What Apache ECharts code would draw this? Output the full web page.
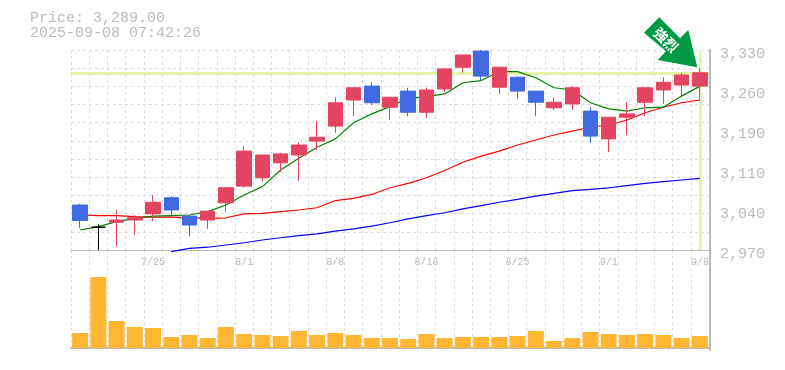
<!DOCTYPE html>
<html><head><meta charset="utf-8">
<style>html,body{margin:0;padding:0;background:#fff}#c{width:785px;height:370px}</style>
<script src="https://cdn.jsdelivr.net/npm/echarts@6/dist/echarts.min.js"></script>
</head><body><div id="c"></div>
<script>
const dates=['7/18','7/22','7/23','7/24','7/25','7/28','7/29','7/30','7/31','8/1','8/4','8/5','8/6','8/7','8/8','8/12','8/13','8/14','8/15','8/18','8/19','8/20','8/21','8/22','8/25','8/26','8/27','8/28','8/29','9/1','9/2','9/3','9/4','9/5','9/8'];
const dateTicks=['7/25','8/1','8/8','8/18','8/25','9/1','9/8'];
const priceTicks=[2970,3042,3114,3186,3258,3330];
const opens =[3051,3011,3020,3024,3035,3064,3031,3024,3055,3085,3100,3127,3141,3166,3193,3240,3265,3227,3256,3218,3260,3299,3328,3263,3281,3256,3226,3233,3220,3170,3209,3236,3258,3267,3265];
const closes=[3023,3011,3024,3028,3056,3042,3015,3040,3082,3148,3141,3143,3159,3173,3235,3262,3235,3245,3218,3258,3296,3321,3283,3299,3256,3236,3236,3262,3175,3209,3215,3262,3272,3285,3289];
const lows  =[3010,2970,2976,2997,3022,3031,2995,3008,3038,3082,3094,3110,3094,3150,3181,3211,3231,3204,3211,3208,3254,3289,3276,3251,3242,3211,3222,3222,3163,3146,3177,3211,3233,3245,3240];
const highs =[3053,3016,3042,3033,3069,3067,3033,3040,3082,3157,3141,3145,3164,3202,3245,3262,3272,3245,3262,3262,3298,3321,3330,3299,3283,3256,3245,3265,3227,3209,3236,3262,3281,3289,3298];
const ma5 =[3006,3012,3021,3027,3031,3032,3033,3039,3051,3069,3084,3114,3135,3155,3170,3199,3215,3228,3243,3246,3251,3271,3275,3291,3291,3280,3262,3258,3235,3224,3220,3226,3227,3247,3265];
const ma25=[3033,3032,3032,3030,3029,3029,3028,3027,3028,3035,3036,3039,3042,3046,3059,3063,3070,3082,3090,3100,3113,3128,3139,3148,3159,3168,3177,3184,3191,3195,3204,3217,3227,3235,3240];
const ma75=[null,null,null,null,null,2967,2973,2975,2979,2983,2988,2992,2996,2999,3004,3008,3013,3019,3026,3032,3037,3044,3050,3056,3061,3067,3072,3077,3079,3082,3086,3090,3093,3096,3099];
const volumes=[15,71,27,21,20,11,13,10,21,14,13,12,17,13,15,13,10,10,9,14,10,11,11,11,12,17,7,10,16,14,13,14,13,10,12];
const lastPrice=3289, priceText='Price: 3,289.00', timeText='2025-09-08 07:42:26', arrowText='強烈';

const MONO='"Liberation Mono",monospace', GREY='#bbbbbb', LIME='#e4f5a8';
const dash={lineStyle:{color:'#dddddd',width:1,type:[3,3]}};
const chart=echarts.init(document.getElementById('c'),null,{renderer:'canvas'});
const lineSeries=(name,data,color)=>({name,type:'line',data,xAxisIndex:0,yAxisIndex:0,symbol:'none',z:2,clip:false,silent:true,animation:false,lineStyle:{color,width:1.2}});
chart.setOption({
  animation:false,
  backgroundColor:'#fff',
  title:{text:priceText+'\n'+timeText,left:30,top:11,padding:0,textStyle:{fontFamily:MONO,fontSize:15,lineHeight:15,fontWeight:'normal',color:GREY}},
  grid:[{left:71,width:638,top:50,height:200},{left:71,width:638,top:250,height:100}],
  xAxis:[
    {type:'category',gridIndex:0,data:dates,boundaryGap:true,axisTick:{show:false},
     axisLine:{lineStyle:{color:GREY,width:1}},
     splitLine:{show:true,interval:0,...dash},
     axisLabel:{interval:(i,v)=>dateTicks.includes(v),margin:7,fontFamily:MONO,fontSize:10,color:GREY}},
    {type:'category',gridIndex:1,data:dates,boundaryGap:true,axisTick:{show:false},axisLabel:{show:false},
     axisLine:{lineStyle:{color:GREY,width:2}},
     splitLine:{show:true,interval:0,...dash}}
  ],
  yAxis:[
    {type:'value',gridIndex:0,position:'right',offset:1,min:2970,max:3330,scale:true,
     axisLine:{show:true,lineStyle:{color:GREY,width:2}},axisTick:{show:false},splitLine:{show:false},
     axisLabel:{customValues:priceTicks,margin:10,verticalAlign:'top',lineHeight:8,fontFamily:MONO,fontSize:15,color:GREY,
       formatter:v=>(Math.round(v/10)*10).toLocaleString('en-US')}},
    {type:'value',gridIndex:0,min:0,max:11,interval:1,axisLine:{show:false},axisTick:{show:false},axisLabel:{show:false},
     splitLine:{show:true,...dash}},
    {type:'value',gridIndex:1,position:'right',offset:1,min:-2,max:98,
     axisLine:{show:true,onZero:false,lineStyle:{color:GREY,width:2}},axisTick:{show:false},axisLabel:{show:false},splitLine:{show:false}}
  ],
  series:[
    {type:'line',data:[],xAxisIndex:0,yAxisIndex:0,z:1,silent:true,
     markLine:{z:1,silent:true,symbol:'none',animation:false,label:{show:false},lineStyle:{color:LIME,width:3,type:'solid'},
       data:[{yAxis:lastPrice},{xAxis:dates[dates.length-1]}]}},
    lineSeries('MA75',ma75,'#0000ff'),
    lineSeries('MA25',ma25,'#ff0000'),
    lineSeries('MA5',ma5,'#008000'),
    {type:'candlestick',xAxisIndex:0,yAxisIndex:0,z:3,barWidth:15,silent:true,clip:true,
     data:dates.map((d,i)=>[opens[i],closes[i],lows[i],highs[i]]),
     itemStyle:{color:'#e24461',color0:'#4169e1',borderColor:'#e24461',borderColor0:'#4169e1',borderColorDoji:'#000000',borderWidth:1}},
    {type:'bar',xAxisIndex:1,yAxisIndex:2,data:volumes,barWidth:16,silent:true,itemStyle:{color:'#ffb733'}}
  ],
  graphic:[
    {type:'polygon',z:100,silent:true,shape:{points:[[644,32.7],[659.3,17.3],[680,38.3],[688.3,30],[697.3,67.3],[657.7,60],[666,51.3]]},style:{fill:'#009944'}},
    {type:'text',z:101,silent:true,x:666,y:40,rotation:-Math.PI/4,style:{text:arrowText,x:0,y:0,align:'center',verticalAlign:'middle',fill:'#fff',font:'bold 14px "Noto Sans CJK JP"',letterSpacing:3}}
  ]
});
</script></body></html>
